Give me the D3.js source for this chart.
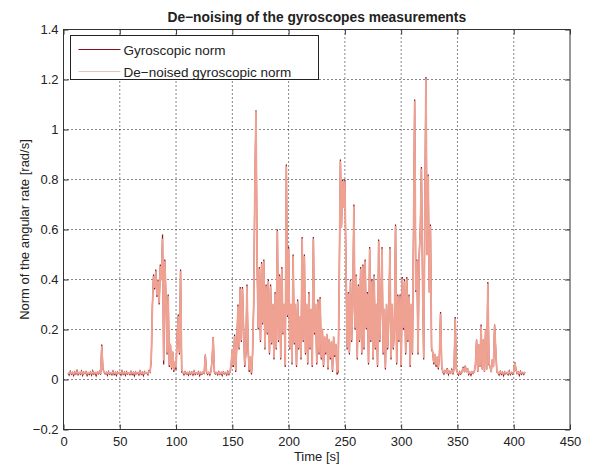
<!DOCTYPE html>
<html>
<head>
<meta charset="utf-8">
<script src="https://cdn.jsdelivr.net/npm/d3@7"></script>
<style>
  body { margin: 0; background: #fff; }
  svg text { font-family: "Liberation Sans", Arial, sans-serif; fill: #222; }
</style>
</head>
<body>
<svg id="chart" width="594" height="465"></svg>
<script>
/* ----------------------- DATA -----------------------*/
// samples every second, first sample at t = 4 s
var startTime = 4;
var sampleStep = 1;

// raw gyroscopic norm [rad/s]
var gyroNorm = [
  .025,.018,.032,.021,.028,.016,.030,.022,.035,.019,  // 4-13
  .027,.021,.033,.017,.029,.024,.031,.016,.026,.020,
  .030,.018,.034,.022,.027,.015,.029,.023,.032,.020,
  .140,.045,.030,.022,.028,.017,.031,.021,.026,.019,  // 34-
  .033,.020,.028,.016,.030,.024,.027,.018,.034,.021,
  .029,.017,.031,.022,.026,.019,.032,.020,.028,.015,
  .030,.023,.027,.018,.033,.021,.029,.016,.031,.024,
  .027,.019,.035,.030,.080,.300,.420,.360,.440,.330,  // 74-
  .400,.300,.460,.400,.580,.060,.480,.330,.100,.340,
  .050,.140,.040,.110,.030,.060,.040,.180,.260,.100,
  .440,.030,.028,.019,.031,.022,.027,.017,.030,.021,  // 104-
  .029,.018,.033,.020,.026,.022,.031,.016,.028,.021,
  .030,.025,.100,.030,.020,.028,.018,.032,.080,.170,
  .030,.022,.027,.019,.031,.021,.028,.016,.030,.023,
  .027,.018,.032,.020,.030,.060,.120,.050,.180,.030,  // 144-
  .140,.300,.120,.370,.150,.370,.200,.050,.100,.380,
  .120,.030,.080,.020,.100,.310,.770,1.077,.470,.200,
  .450,.150,.470,.220,.480,.120,.380,.180,.400,.100,
  .380,.140,.300,.080,.350,.120,.600,.150,.420,.080,
  .450,.180,.300,.050,.860,.250,.530,.120,.300,.060,  // 194-
  .500,.140,.300,.050,.320,.120,.250,.080,.570,.150,
  .500,.100,.300,.060,.350,.120,.280,.050,.570,.180,
  .300,.060,.320,.100,.330,.080,.200,.050,.170,.100,
  .180,.040,.160,.080,.150,.030,.170,.090,.140,.020,
  .030,.410,.880,.620,.800,.700,.800,.450,.120,.350,  // 244-
  .100,.400,.150,.300,.700,.200,.420,.080,.380,.150,
  .450,.100,.460,.120,.480,.200,.350,.060,.530,.150,
  .400,.080,.420,.120,.300,.050,.560,.150,.300,.530,
  .100,.280,.040,.300,.120,.250,.530,.080,.300,.120,
  .200,.620,.060,.340,.150,.340,.050,.410,.200,.400,  // 294-
  .100,.410,.150,.340,.050,.300,.100,.600,1.120,.350,
  .480,.100,.500,.600,.850,.400,.080,.650,1.210,.500,
  .820,.350,.620,.120,.110,.060,.100,.050,.090,.040,
  .100,.270,.050,.030,.022,.035,.028,.045,.020,.032,
  .026,.040,.021,.040,.250,.040,.027,.018,.031,.022,  // 344-
  .029,.050,.035,.055,.030,.045,.020,.028,.017,.030,
  .024,.032,.060,.160,.030,.140,.050,.220,.040,.160,
  .030,.200,.040,.390,.060,.050,.030,.080,.050,.220,
  .120,.030,.027,.018,.032,.021,.029,.016,.030,.023,
  .027,.019,.033,.020,.028,.022,.031,.070,.040,.024,  // 394-
  .029,.017,.032,.021,.027,.020,.030
];

// de-noised gyroscopic norm [rad/s]
var denoisedNorm = [
  .027,.024,.029,.025,.028,.023,.029,.026,.031,.024,  // 4-13
  .028,.025,.030,.023,.028,.026,.029,.023,.027,.025,
  .029,.024,.030,.026,.028,.023,.028,.026,.030,.025,
  .130,.040,.029,.026,.028,.024,.029,.025,.027,.024,  // 34-
  .030,.025,.028,.023,.029,.026,.028,.024,.030,.025,
  .028,.024,.029,.026,.027,.024,.030,.025,.028,.023,
  .029,.026,.028,.024,.030,.025,.028,.023,.029,.026,
  .028,.024,.031,.032,.090,.290,.410,.370,.430,.340,  // 74-
  .390,.310,.450,.400,.560,.080,.470,.340,.110,.330,
  .060,.140,.050,.110,.040,.070,.050,.170,.250,.110,
  .430,.040,.029,.025,.029,.026,.028,.024,.029,.025,  // 104-
  .028,.024,.030,.025,.027,.026,.029,.023,.028,.025,
  .029,.027,.095,.032,.025,.028,.024,.030,.075,.165,
  .033,.026,.028,.024,.029,.025,.028,.023,.029,.026,
  .028,.024,.030,.025,.030,.065,.120,.060,.170,.040,  // 144-
  .140,.290,.130,.360,.160,.360,.200,.060,.110,.370,
  .130,.040,.090,.030,.110,.300,.760,1.070,.460,.210,
  .440,.160,.460,.230,.470,.130,.370,.190,.390,.110,
  .370,.150,.300,.090,.340,.130,.590,.160,.410,.090,
  .440,.190,.300,.060,.850,.260,.520,.130,.300,.070,  // 194-
  .490,.150,.300,.060,.310,.130,.250,.090,.560,.160,
  .490,.110,.300,.070,.340,.130,.280,.060,.560,.190,
  .300,.070,.310,.110,.320,.090,.200,.060,.170,.110,
  .180,.050,.160,.090,.150,.040,.170,.100,.140,.030,
  .040,.400,.870,.610,.790,.690,.790,.440,.130,.340,  // 244-
  .110,.390,.160,.300,.690,.210,.410,.090,.370,.160,
  .440,.110,.450,.130,.470,.210,.340,.070,.520,.160,
  .390,.090,.410,.130,.300,.060,.550,.160,.300,.520,
  .110,.280,.050,.300,.130,.250,.520,.090,.300,.130,
  .200,.610,.070,.330,.160,.330,.060,.400,.210,.390,  // 294-
  .110,.400,.160,.330,.060,.300,.110,.590,1.110,.360,
  .470,.110,.490,.590,.840,.400,.090,.640,1.200,.500,
  .810,.350,.610,.130,.110,.070,.100,.060,.090,.050,
  .100,.260,.055,.033,.027,.033,.029,.040,.026,.030,
  .028,.036,.027,.038,.240,.045,.028,.024,.029,.026,  // 344-
  .028,.045,.034,.050,.031,.042,.026,.028,.024,.029,
  .027,.031,.060,.155,.035,.135,.055,.210,.045,.155,
  .035,.195,.045,.380,.065,.052,.032,.078,.052,.215,
  .120,.034,.028,.024,.030,.026,.028,.023,.029,.026,
  .028,.024,.030,.025,.028,.026,.029,.065,.040,.027,  // 394-
  .028,.024,.030,.026,.028,.025,.029
];

var xTicks = [0, 50, 100, 150, 200, 250, 300, 350, 400, 450];
var xTickLabels = ["0", "50", "100", "150", "200", "250", "300", "350", "400", "450"];
var yTicks = [-0.2, 0, 0.2, 0.4, 0.6, 0.8, 1, 1.2, 1.4];
var yTickLabels = ["\u22120.2", "0", "0.2", "0.4", "0.6", "0.8", "1", "1.2", "1.4"];
var seriesNames = ["Gyroscopic norm", "De\u2212noised gyroscopic norm"];

/* ----------------------- CHART -----------------------*/
var svg = d3.select("#chart");
var margin = {top: 29.5, right: 24, bottom: 35.5, left: 63.5};
var width = 594 - margin.left - margin.right;
var height = 465 - margin.top - margin.bottom;

var rawColor = "#8b1020";
var denoisedColor = "#f0a292";

var g = svg.append("g")
  .attr("transform", "translate(" + margin.left + "," + margin.top + ")");

var x = d3.scaleLinear().domain([0, 450]).range([0, width]);
var y = d3.scaleLinear().domain([-0.2, 1.4]).range([height, 0]);

// dotted grid
g.append("g").selectAll("line")
  .data(xTicks.slice(1, -1))
  .enter().append("line")
    .attr("x1", function(d) {return x(d);})
    .attr("x2", function(d) {return x(d);})
    .attr("y1", 0).attr("y2", height)
    .attr("stroke", "#111").attr("stroke-dasharray", "1,3");
g.append("g").selectAll("line")
  .data(yTicks.slice(1, -1))
  .enter().append("line")
    .attr("y1", function(d) {return y(d);})
    .attr("y2", function(d) {return y(d);})
    .attr("x1", 0).attr("x2", width)
    .attr("stroke", "#111").attr("stroke-dasharray", "1,3");

// signals
var line = d3.line()
  .x(function(d, i) {return x(startTime + i * sampleStep);})
  .y(function(d) {return y(d);});

g.append("path")
  .datum(gyroNorm)
  .attr("d", line)
  .attr("fill", "none")
  .attr("stroke", rawColor)
  .attr("stroke-width", 1.2);

g.append("path")
  .datum(denoisedNorm)
  .attr("d", line)
  .attr("fill", "none")
  .attr("stroke", denoisedColor)
  .attr("stroke-width", 1.8)
  .attr("stroke-linejoin", "round");

// axes, ticks point inwards on all four sides
function styleAxis(sel) {
  sel.select(".domain").remove();
  sel.selectAll(".tick line").attr("stroke", "#333");
  sel.selectAll(".tick text").style("font-size", "13px").attr("fill", "#333");
}

g.append("g")
  .attr("transform", "translate(0," + height + ")")
  .call(d3.axisBottom(x).tickValues(xTicks).tickSize(-5).tickPadding(7)
    .tickFormat(function(d, i) {return xTickLabels[i];}))
  .call(styleAxis);

g.append("g")
  .call(d3.axisLeft(y).tickValues(yTicks).tickSize(-5).tickPadding(5)
    .tickFormat(function(d, i) {return yTickLabels[i];}))
  .call(styleAxis);

g.append("g")
  .call(d3.axisTop(x).tickValues(xTicks).tickSize(-5).tickFormat(""))
  .call(styleAxis);

g.append("g")
  .attr("transform", "translate(" + width + ",0)")
  .call(d3.axisRight(y).tickValues(yTicks).tickSize(-5).tickFormat(""))
  .call(styleAxis);

g.append("rect")
  .attr("width", width).attr("height", height)
  .attr("fill", "none").attr("stroke", "#333");

// legend
var legend = g.append("g").attr("transform", "translate(7,6)");
legend.append("rect")
  .attr("width", 248).attr("height", 44)
  .attr("fill", "#fff").attr("stroke", "#222");
legend.selectAll("line")
  .data(seriesNames)
  .enter().append("line")
    .attr("x1", 8).attr("x2", 50)
    .attr("y1", function(d, i) {return 14 + i * 22;})
    .attr("y2", function(d, i) {return 14 + i * 22;})
    .attr("stroke", function(d, i) {return i === 0 ? rawColor : "#ecc2b8";});
legend.selectAll("text")
  .data(seriesNames)
  .enter().append("text")
    .attr("x", 53)
    .attr("y", function(d, i) {return 19 + i * 22;})
    .style("font-size", "13.5px")
    .text(function(d) {return d;});

// title and axis labels
svg.append("text")
  .attr("x", margin.left + width / 2).attr("y", 22)
  .attr("text-anchor", "middle")
  .style("font-size", "13.8px").style("font-weight", "bold")
  .text("De\u2212noising of the gyroscopes measurements");

svg.append("text")
  .attr("x", margin.left + width / 2).attr("y", 461)
  .attr("text-anchor", "middle")
  .style("font-size", "13px")
  .text("Time [s]");

svg.append("text")
  .attr("transform", "translate(29," + (margin.top + height / 2) + ") rotate(-90)")
  .attr("text-anchor", "middle")
  .style("font-size", "13px")
  .text("Norm of the angular rate [rad/s]");
</script>
</body>
</html>
